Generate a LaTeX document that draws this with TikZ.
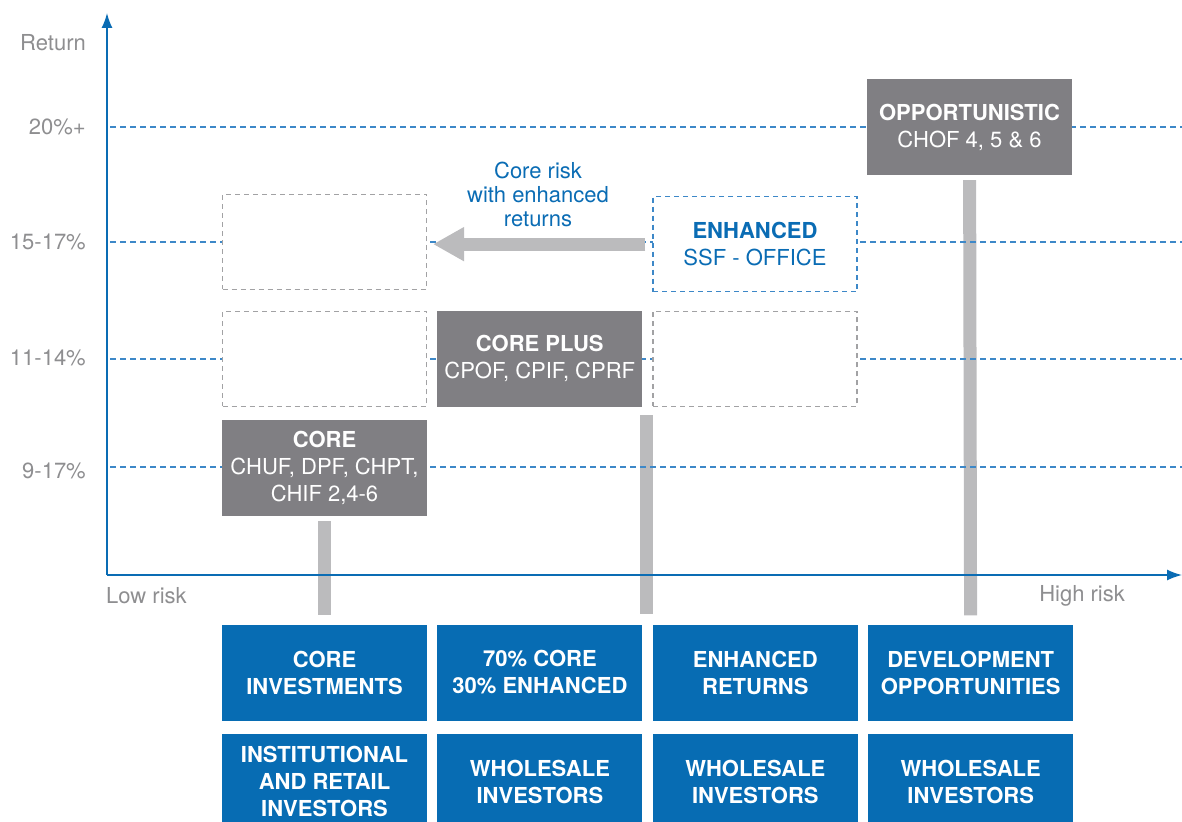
\documentclass[tikz,border=0pt]{standalone}
\usepackage{fontspec}
\setmainfont{TeX Gyre Heros}
\usepackage{xcolor}
\usetikzlibrary{arrows.meta,positioning,backgrounds}
\definecolor{axisblue}{HTML}{0A6CB4}
\definecolor{levelblue}{HTML}{3D88C8}
\definecolor{fundgrey}{HTML}{807F83}
\definecolor{stemgrey}{HTML}{BBBBBD}
\definecolor{slotgrey}{HTML}{A2A2A4}
\definecolor{labelgrey}{HTML}{8E8E90}
\definecolor{boxblue}{HTML}{076CB3}

\begin{document}
\begin{tikzpicture}[x=1pt,y=-1pt,node distance=13pt and 10pt,every node/.style={font=\fontsize{22}{27}\selectfont,align=center,inner sep=0pt},fund/.style={fill=fundgrey,text=white,minimum width=205pt,minimum height=96pt},slot/.style={draw=slotgrey,fill=white,line width=1.1pt,dash pattern=on 5pt off 4pt,minimum width=204pt,minimum height=95pt},investor/.style={fill=boxblue,text=white,font=\fontsize{22}{27}\selectfont\bfseries,minimum width=205pt,minimum height=96pt},ticklabel/.style={text=labelgrey,anchor=east},level/.style={levelblue,line width=1.2pt,dash pattern=on 6pt off 4pt},axisline/.style={axisblue,line width=1.5pt,-{Latex[length=15pt,width=11pt]}},stem/.style={stemgrey,line width=13pt},swing/.style={stemgrey,line width=13pt,-{Triangle[length=31pt,width=32pt]}}]
\useasboundingbox (0,0) rectangle (1182,821);
\clip (0,0) rectangle (1182,821);
\node[ticklabel] (ret) at (86,43) {Return};
\node[ticklabel] (r20) at (86,127) {20\%+};
\node[ticklabel] (r15) at (86,242) {15-17\%};
\node[ticklabel] (r11) at (86,358) {11-14\%};
\node[ticklabel] (r9) at (86,471) {9-17\%};
\node[text=labelgrey,anchor=west] (low) at (106,596) {Low risk};
\node[text=labelgrey,anchor=east] (high) at (1125,596) {High risk};
\draw[level] (110,127) -- (1182,127);
\draw[level] (110,242) -- (1182,242);
\draw[level] (110,359) -- (1182,359);
\draw[level] (110,467) -- (1182,467);
\node[investor] (ci) at (324.5,672.5) {CORE\\INVESTMENTS};
\node[investor,right=of ci] (mix) {70\% CORE\\30\% ENHANCED};
\node[investor,right=of mix] (er) {ENHANCED\\RETURNS};
\node[investor,right=of er] (dev) {DEVELOPMENT\\OPPORTUNITIES};
\node[investor,below=of ci] (iri) {INSTITUTIONAL\\AND RETAIL\\INVESTORS};
\node[investor,below=of mix] (ws1) {WHOLESALE\\INVESTORS};
\node[investor,below=of er] (ws2) {WHOLESALE\\INVESTORS};
\node[investor,below=of dev] (ws3) {WHOLESALE\\INVESTORS};
\node[fund] (core) at (324.5,468) {\textbf{CORE}\\CHUF, DPF, CHPT,\\CHIF 2,4-6};
\node[slot,above=of core] (slotA) {};
\node[fund,right=of slotA] (plus) {\textbf{CORE PLUS}\\CPOF, CPIF, CPRF};
\node[slot,right=of plus] (slotB) {};
\node[slot,above=21pt of slotA] (slotC) {};
\node[slot,draw=levelblue,text=axisblue,above=18.5pt of slotB] (enh) {\textbf{ENHANCED}\\SSF - OFFICE};
\node[fund] (opp) at (969.5,127) {\textbf{OPPORTUNISTIC}\\CHOF 4, 5 \& 6};
\node[text=axisblue,font=\fontsize{22}{24}\selectfont] (lbl) at (538,194) {Core risk\\with enhanced\\returns};
\coordinate (s2) at (646.5,415);
\begin{scope}[on background layer]
\draw[stem,shorten <=5pt,shorten >=9pt] (core) -- (ci);
\draw[stem,shorten >=10pt] (s2) -- (s2 |- mix.north);
\draw[stem,shorten <=5pt,shorten >=9pt] (opp) -- (dev);
\end{scope}
\draw[swing,shorten <=7pt,shorten >=6pt] (enh.west) -- (enh.west -| slotC.east);
\draw[axisline] (107,575) -- (107,13);
\draw[axisline] (107,575) -- (1182,575);
\end{tikzpicture}
\end{document}
